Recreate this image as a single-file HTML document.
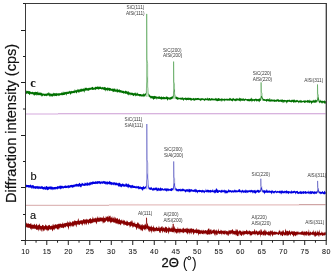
<!DOCTYPE html><html><head><meta charset="utf-8"><style>html,body{margin:0;padding:0;background:#fff;overflow:hidden}svg{display:block} svg{will-change:transform}</style></head><body><svg width="335" height="272" viewBox="0 0 335 272">
<rect width="335" height="272" fill="#fff"/>
<line x1="26" y1="114.0" x2="58" y2="114.0" stroke="#dcb8e2" stroke-width="1.2"/>
<line x1="58" y1="113.75" x2="325.6" y2="113.75" stroke="#cb9ad3" stroke-width="1.2"/>
<line x1="26" y1="205.3" x2="109" y2="205.3" stroke="#d6a8a8" stroke-width="1"/>
<line x1="109" y1="204.9" x2="299" y2="204.9" stroke="#e6c0c0" stroke-width="1.3"/>
<line x1="299" y1="204.7" x2="325.6" y2="204.7" stroke="#c49090" stroke-width="1"/>
<polygon fill="#007000" points="25.90,90.83 26.40,90.51 26.90,91.46 27.40,90.85 27.90,90.88 28.40,90.80 28.90,91.43 29.40,91.12 29.90,91.23 30.40,91.66 30.90,91.69 31.40,92.05 31.90,92.21 32.40,91.70 32.90,91.84 33.40,92.20 33.90,92.13 34.40,91.99 34.90,92.25 35.40,91.61 35.90,92.20 36.40,91.98 36.90,92.09 37.40,92.42 37.90,91.06 38.40,92.62 38.90,93.08 39.40,92.39 39.90,92.44 40.40,92.80 40.90,92.48 41.40,92.67 41.90,93.21 42.40,93.45 42.90,93.55 43.40,93.55 43.90,93.66 44.40,93.73 44.90,93.74 45.40,93.47 45.90,93.91 46.40,93.78 46.90,93.15 47.40,92.65 47.90,93.71 48.40,93.10 48.90,91.85 49.40,93.28 49.90,93.57 50.40,93.83 50.90,93.21 51.40,93.96 51.90,93.61 52.40,93.99 52.90,93.18 53.40,92.44 53.90,93.71 54.40,92.88 54.90,93.24 55.40,93.59 55.90,92.99 56.40,93.57 56.90,92.83 57.40,93.53 57.90,93.39 58.40,93.27 58.90,93.32 59.40,93.25 59.90,93.13 60.40,93.07 60.90,93.50 61.40,92.27 61.90,92.82 62.40,93.11 62.90,91.50 63.40,93.06 63.90,91.34 64.40,92.31 64.90,92.19 65.40,91.84 65.90,92.17 66.40,92.06 66.90,91.51 67.40,91.56 67.90,92.16 68.40,91.37 68.90,91.81 69.40,90.53 69.90,91.58 70.40,91.06 70.90,91.60 71.40,91.07 71.90,90.77 72.40,91.26 72.90,90.91 73.40,90.70 73.90,90.64 74.40,90.80 74.90,88.92 75.40,90.42 75.90,90.35 76.40,89.67 76.90,90.38 77.40,89.80 77.90,88.70 78.40,89.53 78.90,89.71 79.40,89.15 79.90,89.72 80.40,88.42 80.90,89.59 81.40,88.19 81.90,89.27 82.40,89.07 82.90,88.54 83.40,88.16 83.90,89.05 84.40,88.77 84.90,87.55 85.40,87.63 85.90,88.02 86.40,87.47 86.90,88.30 87.40,88.09 87.90,88.45 88.40,87.95 88.90,87.75 89.40,87.93 89.90,87.52 90.40,88.05 90.90,87.48 91.40,87.60 91.90,87.21 92.40,86.82 92.90,87.07 93.40,87.68 93.90,87.70 94.40,87.55 94.90,87.39 95.40,86.56 95.90,86.91 96.40,86.84 96.90,87.06 97.40,86.29 97.90,86.85 98.40,86.62 98.90,86.99 99.40,86.87 99.90,86.55 100.40,86.45 100.90,86.90 101.40,87.41 101.90,87.35 102.40,87.21 102.90,86.79 103.40,87.76 103.90,87.01 104.40,87.32 104.90,86.81 105.40,87.51 105.90,87.44 106.40,87.97 106.90,88.12 107.40,87.95 107.90,86.78 108.40,88.22 108.90,87.66 109.40,88.05 109.90,87.87 110.40,88.18 110.90,88.29 111.40,88.70 111.90,89.03 112.40,88.16 112.90,88.88 113.40,88.85 113.90,88.52 114.40,88.96 114.90,87.89 115.40,89.17 115.90,89.67 116.40,89.72 116.90,88.39 117.40,88.63 117.90,89.78 118.40,89.73 118.90,89.82 119.40,88.98 119.90,90.23 120.40,90.09 120.90,90.32 121.40,90.06 121.90,91.14 122.40,90.87 122.90,90.51 123.40,90.92 123.90,90.74 124.40,91.72 124.90,90.96 125.40,91.03 125.90,90.35 126.40,91.46 126.90,91.11 127.40,91.63 127.90,91.51 128.40,91.11 128.90,92.17 129.40,92.16 129.90,92.53 130.40,92.70 130.90,92.47 131.40,92.62 131.90,93.12 132.40,92.75 132.90,92.80 133.40,93.36 133.90,93.20 134.40,93.28 134.90,92.41 135.40,93.57 135.90,92.01 136.40,93.61 136.90,93.83 137.40,92.16 137.90,93.87 138.40,93.79 138.90,93.88 139.40,93.91 139.90,94.03 140.40,94.00 140.90,94.12 141.40,94.68 141.90,94.10 142.40,94.48 142.90,94.37 143.40,94.14 143.90,92.69 144.40,94.46 144.90,93.86 145.40,93.27 145.90,93.43 146.40,90.30 146.90,83.07 147.40,76.06 147.90,84.94 148.40,92.72 148.90,94.61 149.40,94.15 149.90,95.21 150.40,95.94 150.90,95.53 151.40,96.29 151.90,95.80 152.40,95.97 152.90,96.27 153.40,95.99 153.90,96.28 154.40,95.98 154.90,95.67 155.40,96.28 155.90,96.25 156.40,96.37 156.90,96.98 157.40,96.62 157.90,96.99 158.40,96.51 158.90,96.59 159.40,96.04 159.90,97.10 160.40,96.85 160.90,97.14 161.40,96.27 161.90,96.70 162.40,97.05 162.90,97.21 163.40,96.27 163.90,97.19 164.40,97.05 164.90,97.08 165.40,96.82 165.90,97.63 166.40,96.09 166.90,96.67 167.40,96.69 167.90,97.06 168.40,97.49 168.90,97.27 169.40,97.44 169.90,97.46 170.40,97.09 170.90,97.13 171.40,96.71 171.90,96.38 172.40,96.48 172.90,96.10 173.40,94.84 173.90,90.98 174.40,88.54 174.90,93.35 175.40,96.44 175.90,97.29 176.40,96.47 176.90,96.71 177.40,96.88 177.90,97.62 178.40,97.41 178.90,97.70 179.40,97.96 179.90,97.61 180.40,97.71 180.90,97.69 181.40,97.53 181.90,97.92 182.40,97.20 182.90,97.52 183.40,98.39 183.90,97.61 184.40,98.02 184.90,97.93 185.40,97.33 185.90,97.90 186.40,97.75 186.90,97.89 187.40,97.71 187.90,97.81 188.40,98.13 188.90,97.06 189.40,98.06 189.90,97.90 190.40,97.76 190.90,97.95 191.40,98.35 191.90,98.16 192.40,98.50 192.90,98.38 193.40,97.87 193.90,98.14 194.40,98.61 194.90,98.37 195.40,97.87 195.90,98.38 196.40,98.20 196.90,98.04 197.40,97.95 197.90,97.99 198.40,98.34 198.90,97.80 199.40,98.45 199.90,98.68 200.40,98.44 200.90,98.21 201.40,98.20 201.90,98.36 202.40,98.27 202.90,98.30 203.40,98.30 203.90,98.89 204.40,98.44 204.90,98.74 205.40,98.29 205.90,97.94 206.40,98.75 206.90,98.54 207.40,97.21 207.90,98.76 208.40,98.45 208.90,98.20 209.40,98.10 209.90,97.88 210.40,98.80 210.90,98.78 211.40,98.35 211.90,97.89 212.40,98.61 212.90,98.40 213.40,98.66 213.90,98.60 214.40,98.56 214.90,99.02 215.40,98.29 215.90,97.87 216.40,98.52 216.90,98.49 217.40,98.59 217.90,98.73 218.40,98.11 218.90,97.90 219.40,98.47 219.90,98.68 220.40,98.65 220.90,98.98 221.40,98.51 221.90,98.15 222.40,98.49 222.90,98.92 223.40,98.83 223.90,98.96 224.40,98.25 224.90,98.89 225.40,98.96 225.90,98.61 226.40,98.71 226.90,98.83 227.40,98.71 227.90,98.79 228.40,98.81 228.90,98.92 229.40,98.34 229.90,97.67 230.40,97.99 230.90,98.87 231.40,99.12 231.90,98.49 232.40,98.44 232.90,98.46 233.40,97.85 233.90,98.86 234.40,98.81 234.90,98.99 235.40,98.53 235.90,98.98 236.40,97.89 236.90,98.66 237.40,98.34 237.90,98.77 238.40,98.51 238.90,99.04 239.40,97.33 239.90,98.60 240.40,98.18 240.90,98.32 241.40,98.72 241.90,98.39 242.40,98.86 242.90,98.62 243.40,97.94 243.90,99.21 244.40,98.95 244.90,98.81 245.40,98.51 245.90,98.84 246.40,99.08 246.90,99.24 247.40,98.89 247.90,99.01 248.40,98.85 248.90,99.26 249.40,99.27 249.90,98.79 250.40,98.93 250.90,98.31 251.40,97.50 251.90,98.99 252.40,99.29 252.90,98.48 253.40,99.24 253.90,99.22 254.40,99.06 254.90,99.04 255.40,98.70 255.90,98.47 256.40,98.94 256.90,98.82 257.40,99.24 257.90,99.06 258.40,98.84 258.90,99.19 259.40,98.53 259.90,98.30 260.40,98.99 260.90,96.58 261.40,95.89 261.90,95.69 262.40,97.75 262.90,97.79 263.40,99.01 263.90,98.99 264.40,99.03 264.90,99.31 265.40,99.47 265.90,99.26 266.40,99.03 266.90,99.23 267.40,99.34 267.90,98.39 268.40,99.55 268.90,99.10 269.40,97.83 269.90,99.97 270.40,99.67 270.90,98.56 271.40,99.63 271.90,99.18 272.40,99.72 272.90,99.59 273.40,99.65 273.90,99.39 274.40,99.15 274.90,100.01 275.40,99.84 275.90,100.00 276.40,99.53 276.90,99.50 277.40,98.78 277.90,99.99 278.40,98.75 278.90,99.97 279.40,99.80 279.90,100.21 280.40,99.34 280.90,100.34 281.40,99.82 281.90,99.13 282.40,99.40 282.90,99.83 283.40,100.06 283.90,100.07 284.40,99.99 284.90,99.65 285.40,100.20 285.90,100.01 286.40,100.34 286.90,100.15 287.40,99.87 287.90,100.06 288.40,99.81 288.90,100.32 289.40,99.15 289.90,100.25 290.40,100.51 290.90,100.02 291.40,100.24 291.90,99.61 292.40,99.85 292.90,99.91 293.40,99.46 293.90,100.12 294.40,99.34 294.90,100.29 295.40,100.59 295.90,100.24 296.40,99.71 296.90,100.53 297.40,99.81 297.90,100.54 298.40,100.79 298.90,100.74 299.40,100.70 299.90,100.02 300.40,100.65 300.90,99.78 301.40,100.57 301.90,100.67 302.40,101.02 302.90,100.76 303.40,100.75 303.90,100.25 304.40,100.53 304.90,100.61 305.40,100.33 305.90,100.81 306.40,100.64 306.90,100.48 307.40,99.80 307.90,100.54 308.40,100.31 308.90,100.33 309.40,100.71 309.90,99.16 310.40,100.79 310.90,100.73 311.40,100.73 311.90,100.67 312.40,100.45 312.90,100.87 313.40,99.54 313.90,100.79 314.40,100.58 314.90,99.70 315.40,99.60 315.90,100.56 316.40,99.95 316.90,100.21 317.40,98.95 317.90,97.00 318.40,97.23 318.90,98.48 319.40,100.42 319.90,101.01 320.40,99.57 320.90,100.97 321.40,100.84 321.90,100.71 322.40,100.61 322.90,101.31 323.40,100.63 323.90,101.37 324.40,99.93 324.90,101.15 325.40,101.02 325.90,101.13 325.90,103.09 325.40,104.11 324.90,102.97 324.40,103.95 323.90,102.75 323.40,102.44 322.90,103.86 322.40,102.89 321.90,102.33 321.40,103.75 320.90,102.61 320.40,102.38 319.90,102.58 319.40,103.40 318.90,101.76 318.40,100.35 317.90,99.52 317.40,101.16 316.90,101.76 316.40,102.40 315.90,102.46 315.40,102.78 314.90,102.59 314.40,102.88 313.90,102.34 313.40,102.73 312.90,102.58 312.40,102.72 311.90,103.22 311.40,104.44 310.90,102.62 310.40,102.16 309.90,103.17 309.40,102.83 308.90,102.46 308.40,102.83 307.90,102.37 307.40,102.89 306.90,102.36 306.40,102.30 305.90,102.26 305.40,102.64 304.90,102.83 304.40,103.00 303.90,102.40 303.40,102.11 302.90,102.32 302.40,102.35 301.90,102.86 301.40,102.38 300.90,102.65 300.40,102.58 299.90,102.21 299.40,102.24 298.90,103.47 298.40,102.40 297.90,102.04 297.40,101.84 296.90,102.38 296.40,101.94 295.90,101.92 295.40,102.57 294.90,102.92 294.40,102.05 293.90,102.01 293.40,103.14 292.90,102.08 292.40,101.80 291.90,101.90 291.40,102.58 290.90,102.23 290.40,101.94 289.90,101.95 289.40,101.71 288.90,101.96 288.40,101.54 287.90,101.85 287.40,102.28 286.90,103.65 286.40,102.76 285.90,101.42 285.40,101.71 284.90,102.78 284.40,101.74 283.90,101.60 283.40,102.86 282.90,103.13 282.40,101.69 281.90,101.78 281.40,102.31 280.90,101.79 280.40,101.61 279.90,102.01 279.40,101.56 278.90,102.10 278.40,101.84 277.90,101.49 277.40,101.25 276.90,101.32 276.40,102.11 275.90,101.80 275.40,101.39 274.90,101.89 274.40,101.76 273.90,101.71 273.40,101.25 272.90,101.83 272.40,101.36 271.90,101.58 271.40,101.52 270.90,101.37 270.40,101.63 269.90,101.88 269.40,101.32 268.90,101.45 268.40,101.16 267.90,101.01 267.40,100.73 266.90,102.34 266.40,101.58 265.90,100.81 265.40,101.03 264.90,101.09 264.40,100.83 263.90,100.87 263.40,100.71 262.90,100.52 262.40,99.37 261.90,97.63 261.40,97.72 260.90,100.14 260.40,101.09 259.90,100.86 259.40,102.24 258.90,101.90 258.40,101.01 257.90,100.65 257.40,100.98 256.90,101.85 256.40,101.31 255.90,100.46 255.40,100.65 254.90,100.63 254.40,102.03 253.90,100.68 253.40,100.84 252.90,101.26 252.40,100.68 251.90,102.41 251.40,100.63 250.90,100.72 250.40,101.23 249.90,100.95 249.40,101.42 248.90,101.15 248.40,101.23 247.90,100.76 247.40,101.29 246.90,100.94 246.40,100.37 245.90,100.25 245.40,100.36 244.90,100.47 244.40,101.32 243.90,101.06 243.40,100.40 242.90,100.74 242.40,100.76 241.90,100.79 241.40,100.65 240.90,100.21 240.40,101.79 239.90,101.31 239.40,100.86 238.90,100.72 238.40,100.46 237.90,100.42 237.40,100.29 236.90,101.27 236.40,100.50 235.90,101.11 235.40,101.41 234.90,100.34 234.40,101.35 233.90,100.47 233.40,100.30 232.90,100.65 232.40,101.78 231.90,100.67 231.40,100.89 230.90,100.62 230.40,100.34 229.90,100.90 229.40,100.50 228.90,100.34 228.40,100.83 227.90,100.68 227.40,100.59 226.90,100.72 226.40,100.35 225.90,100.43 225.40,100.39 224.90,100.28 224.40,101.65 223.90,100.53 223.40,100.60 222.90,100.74 222.40,100.34 221.90,102.21 221.40,100.28 220.90,101.55 220.40,100.27 219.90,100.81 219.40,100.80 218.90,100.71 218.40,100.88 217.90,100.92 217.40,101.34 216.90,101.26 216.40,100.73 215.90,100.49 215.40,100.61 214.90,100.54 214.40,100.28 213.90,100.62 213.40,100.35 212.90,100.39 212.40,100.22 211.90,100.32 211.40,100.28 210.90,100.90 210.40,100.40 209.90,100.17 209.40,100.75 208.90,99.88 208.40,101.26 207.90,100.14 207.40,100.56 206.90,100.06 206.40,100.13 205.90,100.61 205.40,99.96 204.90,100.49 204.40,101.34 203.90,100.33 203.40,100.22 202.90,100.10 202.40,99.79 201.90,100.63 201.40,100.06 200.90,100.14 200.40,101.15 199.90,100.18 199.40,100.17 198.90,99.68 198.40,100.08 197.90,100.34 197.40,99.77 196.90,100.00 196.40,100.03 195.90,100.41 195.40,100.01 194.90,100.25 194.40,101.18 193.90,99.84 193.40,100.75 192.90,100.24 192.40,99.92 191.90,99.98 191.40,100.65 190.90,100.88 190.40,100.08 189.90,99.70 189.40,99.97 188.90,99.71 188.40,100.14 187.90,100.07 187.40,100.02 186.90,99.80 186.40,100.64 185.90,99.73 185.40,100.00 184.90,99.86 184.40,99.49 183.90,99.84 183.40,101.19 182.90,99.98 182.40,99.52 181.90,99.90 181.40,99.41 180.90,99.79 180.40,99.40 179.90,99.28 179.40,99.37 178.90,99.57 178.40,99.32 177.90,99.81 177.40,99.73 176.90,99.55 176.40,99.12 175.90,98.95 175.40,98.27 174.90,95.52 174.40,91.12 173.90,92.94 173.40,97.27 172.90,98.16 172.40,98.78 171.90,99.10 171.40,99.02 170.90,100.33 170.40,99.31 169.90,99.49 169.40,99.80 168.90,99.31 168.40,98.91 167.90,100.75 167.40,100.36 166.90,99.38 166.40,99.06 165.90,99.11 165.40,99.15 164.90,99.16 164.40,99.14 163.90,99.15 163.40,99.28 162.90,99.21 162.40,99.28 161.90,98.88 161.40,99.98 160.90,99.49 160.40,99.00 159.90,98.79 159.40,98.93 158.90,98.74 158.40,98.88 157.90,98.58 157.40,98.57 156.90,99.88 156.40,98.51 155.90,98.70 155.40,98.54 154.90,98.77 154.40,99.02 153.90,99.31 153.40,99.93 152.90,98.75 152.40,98.44 151.90,98.41 151.40,97.90 150.90,98.96 150.40,97.71 149.90,97.40 149.40,97.09 148.90,96.61 148.40,94.90 147.90,86.91 147.40,78.62 146.90,85.29 146.40,92.72 145.90,95.11 145.40,95.84 144.90,96.11 144.40,96.60 143.90,97.31 143.40,96.05 142.90,96.93 142.40,96.33 141.90,96.11 141.40,96.64 140.90,96.73 140.40,96.06 139.90,96.18 139.40,96.49 138.90,95.83 138.40,95.81 137.90,96.24 137.40,95.32 136.90,95.88 136.40,95.86 135.90,95.33 135.40,96.69 134.90,95.27 134.40,95.30 133.90,95.66 133.40,96.37 132.90,95.40 132.40,95.34 131.90,94.93 131.40,94.83 130.90,95.64 130.40,94.56 129.90,94.53 129.40,94.42 128.90,95.65 128.40,94.52 127.90,95.01 127.40,94.35 126.90,93.92 126.40,93.50 125.90,93.97 125.40,93.63 124.90,93.13 124.40,93.47 123.90,92.98 123.40,93.92 122.90,92.93 122.40,92.88 121.90,93.35 121.40,92.47 120.90,92.40 120.40,92.51 119.90,92.63 119.40,92.36 118.90,92.45 118.40,91.81 117.90,92.13 117.40,92.45 116.90,92.40 116.40,91.61 115.90,91.73 115.40,91.81 114.90,91.73 114.40,91.52 113.90,91.46 113.40,92.11 112.90,92.27 112.40,90.92 111.90,90.74 111.40,90.88 110.90,90.42 110.40,90.66 109.90,90.63 109.40,91.16 108.90,90.16 108.40,90.39 107.90,90.04 107.40,91.58 106.90,89.99 106.40,90.07 105.90,91.63 105.40,90.31 104.90,90.33 104.40,90.20 103.90,89.61 103.40,90.09 102.90,89.26 102.40,89.22 101.90,89.78 101.40,89.17 100.90,88.94 100.40,89.04 99.90,89.00 99.40,89.27 98.90,88.96 98.40,90.05 97.90,89.08 97.40,89.20 96.90,89.12 96.40,89.08 95.90,90.24 95.40,89.65 94.90,89.31 94.40,89.77 93.90,89.51 93.40,89.93 92.90,89.71 92.40,90.12 91.90,89.79 91.40,89.40 90.90,89.44 90.40,89.92 89.90,89.76 89.40,90.21 88.90,90.77 88.40,90.86 87.90,90.41 87.40,90.74 86.90,90.22 86.40,90.46 85.90,90.90 85.40,90.43 84.90,90.49 84.40,93.01 83.90,91.25 83.40,91.59 82.90,90.95 82.40,91.41 81.90,91.79 81.40,91.52 80.90,91.88 80.40,91.87 79.90,91.56 79.40,92.40 78.90,92.87 78.40,92.55 77.90,91.79 77.40,91.97 76.90,93.26 76.40,93.56 75.90,92.52 75.40,92.27 74.90,93.39 74.40,92.84 73.90,93.12 73.40,92.90 72.90,93.58 72.40,92.93 71.90,93.41 71.40,93.20 70.90,94.70 70.40,94.39 69.90,93.65 69.40,93.29 68.90,93.84 68.40,94.11 67.90,94.04 67.40,93.96 66.90,93.75 66.40,96.09 65.90,94.29 65.40,94.21 64.90,94.94 64.40,94.85 63.90,94.93 63.40,94.88 62.90,95.17 62.40,95.18 61.90,95.10 61.40,95.19 60.90,95.34 60.40,95.07 59.90,95.38 59.40,95.58 58.90,96.25 58.40,95.45 57.90,95.54 57.40,95.54 56.90,95.81 56.40,96.30 55.90,95.89 55.40,95.97 54.90,95.55 54.40,96.33 53.90,96.35 53.40,95.52 52.90,96.55 52.40,96.52 51.90,96.49 51.40,96.01 50.90,96.88 50.40,95.58 49.90,96.92 49.40,95.95 48.90,95.57 48.40,95.60 47.90,95.60 47.40,95.55 46.90,96.43 46.40,95.83 45.90,95.88 45.40,95.83 44.90,95.64 44.40,96.17 43.90,95.67 43.40,95.34 42.90,95.63 42.40,96.02 41.90,96.96 41.40,95.39 40.90,96.11 40.40,95.10 39.90,95.10 39.40,95.19 38.90,95.16 38.40,95.14 37.90,94.73 37.40,95.12 36.90,95.89 36.40,94.65 35.90,94.54 35.40,95.37 34.90,94.72 34.40,95.67 33.90,95.54 33.40,94.42 32.90,94.59 32.40,94.00 31.90,94.50 31.40,93.82 30.90,94.57 30.40,93.52 29.90,94.53 29.40,95.17 28.90,93.92 28.40,94.03 27.90,93.47 27.40,93.26 26.90,94.26 26.40,93.67 25.90,93.10"/>
<polygon fill="#0000e0" points="25.90,184.48 26.40,184.86 26.90,185.04 27.40,184.92 27.90,185.08 28.40,184.93 28.90,185.04 29.40,185.23 29.90,185.11 30.40,184.41 30.90,184.79 31.40,185.44 31.90,185.38 32.40,185.11 32.90,185.25 33.40,185.01 33.90,185.90 34.40,186.34 34.90,186.14 35.40,186.34 35.90,185.93 36.40,186.03 36.90,186.39 37.40,185.73 37.90,186.38 38.40,186.41 38.90,185.95 39.40,186.26 39.90,186.71 40.40,186.38 40.90,186.48 41.40,185.77 41.90,186.76 42.40,186.02 42.90,186.83 43.40,186.90 43.90,187.01 44.40,186.24 44.90,187.18 45.40,187.34 45.90,185.97 46.40,186.12 46.90,186.25 47.40,187.10 47.90,186.58 48.40,186.94 48.90,186.50 49.40,186.47 49.90,186.64 50.40,185.97 50.90,187.01 51.40,186.40 51.90,186.62 52.40,186.80 52.90,187.27 53.40,187.13 53.90,186.91 54.40,186.89 54.90,186.92 55.40,187.01 55.90,186.69 56.40,186.97 56.90,186.80 57.40,186.17 57.90,185.98 58.40,186.29 58.90,186.55 59.40,185.99 59.90,185.50 60.40,185.47 60.90,186.04 61.40,185.67 61.90,185.84 62.40,185.76 62.90,186.21 63.40,186.21 63.90,186.15 64.40,185.80 64.90,185.67 65.40,185.22 65.90,185.80 66.40,185.90 66.90,185.55 67.40,185.76 67.90,185.52 68.40,185.34 68.90,185.21 69.40,185.55 69.90,185.48 70.40,184.90 70.90,185.01 71.40,184.72 71.90,185.05 72.40,184.94 72.90,184.71 73.40,184.48 73.90,185.07 74.40,184.72 74.90,184.08 75.40,184.19 75.90,184.20 76.40,183.53 76.90,184.07 77.40,184.16 77.90,183.80 78.40,183.97 78.90,183.56 79.40,182.96 79.90,182.74 80.40,184.04 80.90,184.10 81.40,184.00 81.90,182.46 82.40,183.53 82.90,182.70 83.40,184.05 83.90,183.87 84.40,183.68 84.90,182.34 85.40,183.07 85.90,183.20 86.40,183.53 86.90,182.28 87.40,182.63 87.90,182.25 88.40,182.91 88.90,183.38 89.40,182.03 89.90,182.62 90.40,182.47 90.90,181.41 91.40,182.30 91.90,181.97 92.40,181.87 92.90,181.17 93.40,181.81 93.90,181.57 94.40,181.79 94.90,182.01 95.40,181.10 95.90,181.51 96.40,181.57 96.90,181.44 97.40,181.25 97.90,180.93 98.40,181.32 98.90,181.33 99.40,181.03 99.90,181.26 100.40,181.52 100.90,181.66 101.40,181.68 101.90,180.70 102.40,181.77 102.90,181.23 103.40,180.63 103.90,181.38 104.40,181.26 104.90,181.04 105.40,181.81 105.90,181.15 106.40,181.72 106.90,181.72 107.40,181.51 107.90,181.41 108.40,182.05 108.90,181.86 109.40,181.25 109.90,180.67 110.40,182.07 110.90,181.67 111.40,182.36 111.90,182.03 112.40,182.63 112.90,182.22 113.40,182.48 113.90,182.23 114.40,182.24 114.90,182.55 115.40,182.62 115.90,183.06 116.40,182.31 116.90,182.96 117.40,183.41 117.90,182.86 118.40,183.39 118.90,182.40 119.40,182.71 119.90,183.09 120.40,183.57 120.90,184.02 121.40,184.17 121.90,183.73 122.40,183.99 122.90,182.86 123.40,184.20 123.90,184.02 124.40,184.38 124.90,184.29 125.40,184.46 125.90,183.12 126.40,183.77 126.90,183.56 127.40,184.80 127.90,183.86 128.40,183.53 128.90,184.56 129.40,185.11 129.90,184.39 130.40,185.40 130.90,185.02 131.40,184.90 131.90,185.75 132.40,184.89 132.90,184.67 133.40,185.71 133.90,185.96 134.40,185.69 134.90,186.11 135.40,186.17 135.90,186.26 136.40,186.48 136.90,185.41 137.40,186.48 137.90,186.21 138.40,186.24 138.90,185.71 139.40,187.09 139.90,186.60 140.40,186.16 140.90,187.16 141.40,187.03 141.90,187.00 142.40,186.63 142.90,187.18 143.40,185.73 143.90,186.55 144.40,187.05 144.90,187.24 145.40,186.31 145.90,186.27 146.40,184.25 146.90,180.04 147.40,172.93 147.90,176.30 148.40,184.32 148.90,186.76 149.40,187.42 149.90,187.65 150.40,187.46 150.90,187.55 151.40,186.65 151.90,188.10 152.40,188.47 152.90,188.27 153.40,187.95 153.90,187.41 154.40,188.46 154.90,187.41 155.40,187.68 155.90,187.58 156.40,187.31 156.90,188.06 157.40,188.65 157.90,187.53 158.40,188.14 158.90,187.51 159.40,188.73 159.90,188.31 160.40,187.60 160.90,187.54 161.40,188.59 161.90,188.27 162.40,188.33 162.90,188.21 163.40,189.17 163.90,188.72 164.40,188.38 164.90,188.33 165.40,188.74 165.90,188.05 166.40,188.93 166.90,187.85 167.40,188.96 167.90,187.97 168.40,188.72 168.90,188.64 169.40,189.17 169.90,188.67 170.40,188.83 170.90,188.81 171.40,188.01 171.90,188.21 172.40,188.33 172.90,188.42 173.40,187.17 173.90,183.72 174.40,182.84 174.90,184.97 175.40,188.03 175.90,188.79 176.40,188.53 176.90,188.48 177.40,189.39 177.90,189.04 178.40,189.18 178.90,188.81 179.40,189.03 179.90,189.07 180.40,189.53 180.90,188.27 181.40,189.49 181.90,189.02 182.40,188.65 182.90,188.52 183.40,189.37 183.90,188.59 184.40,189.67 184.90,189.34 185.40,189.64 185.90,189.58 186.40,189.23 186.90,189.15 187.40,189.32 187.90,189.34 188.40,189.75 188.90,188.61 189.40,188.90 189.90,189.29 190.40,189.22 190.90,189.40 191.40,189.05 191.90,189.45 192.40,190.12 192.90,189.47 193.40,189.89 193.90,189.75 194.40,189.26 194.90,189.52 195.40,188.49 195.90,190.09 196.40,189.08 196.90,190.11 197.40,190.20 197.90,190.26 198.40,189.88 198.90,189.99 199.40,189.80 199.90,189.90 200.40,189.92 200.90,190.18 201.40,189.88 201.90,190.44 202.40,189.57 202.90,190.26 203.40,190.22 203.90,190.25 204.40,190.49 204.90,190.58 205.40,190.67 205.90,188.40 206.40,190.42 206.90,189.83 207.40,189.81 207.90,189.83 208.40,189.99 208.90,189.83 209.40,190.34 209.90,190.34 210.40,189.96 210.90,189.87 211.40,190.53 211.90,190.34 212.40,190.37 212.90,188.69 213.40,190.68 213.90,190.46 214.40,190.25 214.90,189.69 215.40,190.29 215.90,188.68 216.40,188.34 216.90,188.75 217.40,189.69 217.90,189.74 218.40,190.74 218.90,189.72 219.40,190.32 219.90,190.21 220.40,190.50 220.90,190.53 221.40,189.62 221.90,190.36 222.40,190.45 222.90,189.62 223.40,190.21 223.90,190.47 224.40,190.22 224.90,189.21 225.40,190.66 225.90,190.01 226.40,190.61 226.90,190.69 227.40,190.79 227.90,190.72 228.40,189.45 228.90,189.29 229.40,190.23 229.90,190.33 230.40,190.13 230.90,189.97 231.40,190.79 231.90,190.50 232.40,190.56 232.90,190.06 233.40,190.19 233.90,190.91 234.40,189.72 234.90,189.53 235.40,189.94 235.90,190.53 236.40,190.30 236.90,190.25 237.40,190.47 237.90,190.55 238.40,189.11 238.90,190.48 239.40,189.02 239.90,188.93 240.40,190.62 240.90,190.56 241.40,190.55 241.90,190.56 242.40,190.05 242.90,189.55 243.40,190.66 243.90,190.47 244.40,190.50 244.90,190.15 245.40,190.49 245.90,188.88 246.40,190.42 246.90,190.34 247.40,190.42 247.90,190.31 248.40,190.48 248.90,190.25 249.40,190.48 249.90,189.78 250.40,190.12 250.90,190.51 251.40,189.40 251.90,190.26 252.40,190.16 252.90,190.28 253.40,190.19 253.90,190.43 254.40,189.72 254.90,190.48 255.40,190.78 255.90,189.64 256.40,190.47 256.90,190.76 257.40,189.52 257.90,190.11 258.40,189.77 258.90,190.23 259.40,190.72 259.90,189.75 260.40,190.29 260.90,187.95 261.40,187.06 261.90,187.80 262.40,189.92 262.90,190.81 263.40,190.49 263.90,189.75 264.40,190.17 264.90,190.48 265.40,190.31 265.90,190.94 266.40,189.99 266.90,188.89 267.40,190.83 267.90,190.59 268.40,190.91 268.90,190.33 269.40,190.13 269.90,191.08 270.40,190.87 270.90,191.10 271.40,190.97 271.90,189.67 272.40,190.79 272.90,190.49 273.40,191.13 273.90,191.26 274.40,191.11 274.90,190.90 275.40,190.66 275.90,190.31 276.40,191.43 276.90,191.32 277.40,190.98 277.90,190.80 278.40,191.17 278.90,191.26 279.40,190.57 279.90,190.90 280.40,191.23 280.90,190.33 281.40,190.83 281.90,190.84 282.40,190.29 282.90,191.19 283.40,190.96 283.90,191.41 284.40,191.06 284.90,190.57 285.40,190.91 285.90,190.97 286.40,190.40 286.90,190.17 287.40,191.54 287.90,190.75 288.40,191.16 288.90,191.09 289.40,191.29 289.90,191.49 290.40,191.49 290.90,191.30 291.40,190.01 291.90,191.53 292.40,191.37 292.90,191.27 293.40,190.80 293.90,191.18 294.40,190.54 294.90,191.07 295.40,191.19 295.90,191.56 296.40,190.95 296.90,191.08 297.40,190.79 297.90,191.35 298.40,191.92 298.90,192.09 299.40,191.86 299.90,191.19 300.40,191.39 300.90,190.65 301.40,191.39 301.90,191.75 302.40,191.42 302.90,191.39 303.40,191.26 303.90,191.09 304.40,191.92 304.90,190.93 305.40,191.23 305.90,191.07 306.40,191.99 306.90,191.58 307.40,191.56 307.90,191.71 308.40,191.68 308.90,190.36 309.40,191.66 309.90,191.77 310.40,191.37 310.90,190.73 311.40,191.83 311.90,191.01 312.40,191.60 312.90,191.02 313.40,191.87 313.90,191.86 314.40,190.72 314.90,191.93 315.40,191.64 315.90,191.13 316.40,191.38 316.90,191.45 317.40,191.22 317.90,189.77 318.40,189.03 318.90,190.69 319.40,191.72 319.90,191.62 320.40,191.84 320.90,191.72 321.40,191.97 321.90,191.86 322.40,190.93 322.90,191.43 323.40,192.03 323.90,192.32 324.40,191.07 324.90,190.82 325.40,191.89 325.90,192.42 325.90,194.27 325.40,193.62 324.90,194.51 324.40,194.22 323.90,194.02 323.40,194.24 322.90,193.97 322.40,193.34 321.90,193.66 321.40,193.81 320.90,194.57 320.40,193.72 319.90,193.20 319.40,193.39 318.90,193.24 318.40,191.61 317.90,191.40 317.40,192.79 316.90,193.27 316.40,193.98 315.90,193.85 315.40,193.82 314.90,193.35 314.40,194.48 313.90,193.66 313.40,194.02 312.90,193.40 312.40,193.28 311.90,193.65 311.40,194.15 310.90,193.39 310.40,194.03 309.90,194.52 309.40,193.29 308.90,193.83 308.40,193.64 307.90,193.08 307.40,193.49 306.90,193.42 306.40,193.42 305.90,194.11 305.40,193.73 304.90,193.15 304.40,193.50 303.90,193.53 303.40,193.96 302.90,194.12 302.40,193.33 301.90,193.78 301.40,194.37 300.90,193.43 300.40,194.02 299.90,193.69 299.40,193.53 298.90,193.72 298.40,194.28 297.90,193.25 297.40,194.31 296.90,193.01 296.40,192.86 295.90,194.40 295.40,193.87 294.90,192.87 294.40,192.84 293.90,193.00 293.40,193.22 292.90,193.15 292.40,193.12 291.90,193.97 291.40,193.25 290.90,193.05 290.40,193.65 289.90,192.89 289.40,192.71 288.90,194.21 288.40,193.78 287.90,193.28 287.40,193.33 286.90,193.31 286.40,193.26 285.90,194.06 285.40,192.59 284.90,192.82 284.40,193.20 283.90,193.42 283.40,192.98 282.90,193.51 282.40,193.08 281.90,192.83 281.40,194.20 280.90,194.28 280.40,192.71 279.90,193.38 279.40,192.94 278.90,192.77 278.40,192.84 277.90,192.82 277.40,192.75 276.90,192.70 276.40,193.44 275.90,192.62 275.40,192.58 274.90,192.60 274.40,193.52 273.90,193.50 273.40,193.01 272.90,193.48 272.40,192.35 271.90,193.28 271.40,194.55 270.90,192.75 270.40,192.69 269.90,192.87 269.40,192.67 268.90,192.40 268.40,192.72 267.90,192.89 267.40,192.80 266.90,192.51 266.40,192.80 265.90,192.74 265.40,192.82 264.90,192.96 264.40,194.58 263.90,192.81 263.40,192.38 262.90,192.52 262.40,191.99 261.90,190.80 261.40,189.31 260.90,191.04 260.40,192.05 259.90,192.10 259.40,192.84 258.90,192.70 258.40,193.00 257.90,192.00 257.40,192.21 256.90,192.51 256.40,192.43 255.90,193.61 255.40,193.84 254.90,192.86 254.40,193.58 253.90,192.14 253.40,192.71 252.90,193.77 252.40,192.43 251.90,192.25 251.40,191.92 250.90,192.83 250.40,192.20 249.90,192.22 249.40,192.00 248.90,192.23 248.40,192.26 247.90,193.04 247.40,192.14 246.90,193.61 246.40,191.95 245.90,193.08 245.40,193.05 244.90,192.06 244.40,192.90 243.90,192.33 243.40,193.17 242.90,192.20 242.40,192.10 241.90,193.79 241.40,192.45 240.90,192.09 240.40,192.43 239.90,191.93 239.40,192.48 238.90,192.10 238.40,192.10 237.90,192.45 237.40,192.09 236.90,192.69 236.40,192.11 235.90,192.49 235.40,192.15 234.90,192.82 234.40,191.95 233.90,192.27 233.40,193.07 232.90,191.87 232.40,192.83 231.90,191.90 231.40,193.32 230.90,192.17 230.40,192.04 229.90,192.56 229.40,192.15 228.90,192.06 228.40,192.42 227.90,192.60 227.40,193.26 226.90,193.41 226.40,192.67 225.90,193.94 225.40,192.61 224.90,193.70 224.40,192.21 223.90,192.51 223.40,192.04 222.90,192.15 222.40,192.35 221.90,192.23 221.40,193.01 220.90,192.36 220.40,192.69 219.90,191.96 219.40,192.02 218.90,191.92 218.40,192.93 217.90,192.93 217.40,192.91 216.90,192.43 216.40,192.28 215.90,192.39 215.40,193.41 214.90,192.16 214.40,193.68 213.90,192.13 213.40,192.42 212.90,192.21 212.40,192.12 211.90,192.54 211.40,191.91 210.90,192.32 210.40,193.12 209.90,192.03 209.40,192.76 208.90,191.96 208.40,193.10 207.90,191.67 207.40,192.56 206.90,192.52 206.40,192.21 205.90,191.69 205.40,192.08 204.90,192.15 204.40,193.52 203.90,192.45 203.40,192.16 202.90,192.63 202.40,191.68 201.90,193.29 201.40,192.14 200.90,192.12 200.40,192.06 199.90,191.90 199.40,192.30 198.90,192.21 198.40,191.65 197.90,192.30 197.40,193.71 196.90,191.88 196.40,192.07 195.90,192.91 195.40,191.71 194.90,192.11 194.40,191.84 193.90,191.87 193.40,191.94 192.90,191.55 192.40,191.64 191.90,191.58 191.40,191.47 190.90,191.61 190.40,191.91 189.90,192.71 189.40,192.05 188.90,192.43 188.40,191.54 187.90,191.69 187.40,191.61 186.90,192.02 186.40,191.32 185.90,192.09 185.40,192.83 184.90,191.56 184.40,191.48 183.90,190.81 183.40,191.26 182.90,191.24 182.40,191.08 181.90,191.85 181.40,191.02 180.90,191.12 180.40,191.54 179.90,191.38 179.40,190.75 178.90,190.80 178.40,191.87 177.90,191.55 177.40,191.09 176.90,191.62 176.40,190.80 175.90,190.38 175.40,190.06 174.90,187.81 174.40,184.56 173.90,187.80 173.40,189.33 172.90,190.05 172.40,190.34 171.90,191.19 171.40,191.04 170.90,190.72 170.40,190.92 169.90,190.55 169.40,190.83 168.90,190.39 168.40,190.90 167.90,191.56 167.40,190.59 166.90,190.81 166.40,192.03 165.90,190.62 165.40,190.96 164.90,190.46 164.40,190.49 163.90,190.35 163.40,190.68 162.90,190.38 162.40,190.27 161.90,190.23 161.40,190.99 160.90,190.28 160.40,191.31 159.90,190.83 159.40,190.62 158.90,191.25 158.40,190.13 157.90,190.65 157.40,190.88 156.90,191.43 156.40,190.24 155.90,189.82 155.40,190.14 154.90,190.02 154.40,190.38 153.90,190.11 153.40,190.63 152.90,190.77 152.40,190.43 151.90,189.99 151.40,189.49 150.90,190.03 150.40,189.78 149.90,189.87 149.40,189.45 148.90,189.02 148.40,187.96 147.90,179.63 147.40,174.84 146.90,182.12 146.40,186.73 145.90,188.08 145.40,188.47 144.90,189.51 144.40,188.85 143.90,189.07 143.40,189.32 142.90,190.89 142.40,190.21 141.90,189.73 141.40,189.35 140.90,189.32 140.40,188.85 139.90,188.82 139.40,189.00 138.90,189.76 138.40,188.79 137.90,188.53 137.40,188.30 136.90,188.24 136.40,188.46 135.90,188.05 135.40,188.49 134.90,187.94 134.40,187.92 133.90,187.92 133.40,188.12 132.90,187.63 132.40,187.74 131.90,188.68 131.40,187.67 130.90,187.51 130.40,188.44 129.90,187.03 129.40,187.11 128.90,188.45 128.40,186.99 127.90,188.04 127.40,186.74 126.90,187.07 126.40,186.69 125.90,186.33 125.40,186.60 124.90,186.95 124.40,186.47 123.90,186.73 123.40,186.51 122.90,186.45 122.40,185.97 121.90,186.93 121.40,187.62 120.90,185.97 120.40,187.32 119.90,186.69 119.40,186.35 118.90,186.45 118.40,186.82 117.90,185.20 117.40,185.44 116.90,185.30 116.40,185.14 115.90,185.23 115.40,185.15 114.90,185.56 114.40,184.43 113.90,184.56 113.40,185.58 112.90,184.42 112.40,184.76 111.90,184.53 111.40,185.52 110.90,184.14 110.40,184.69 109.90,184.56 109.40,184.53 108.90,183.66 108.40,184.16 107.90,184.18 107.40,184.42 106.90,184.95 106.40,183.57 105.90,184.96 105.40,183.65 104.90,183.89 104.40,183.77 103.90,183.74 103.40,183.34 102.90,183.50 102.40,184.02 101.90,183.45 101.40,183.43 100.90,183.74 100.40,184.59 99.90,183.28 99.40,183.91 98.90,183.55 98.40,183.52 97.90,183.61 97.40,184.27 96.90,183.86 96.40,183.82 95.90,184.31 95.40,183.63 94.90,184.04 94.40,183.91 93.90,184.02 93.40,183.96 92.90,183.97 92.40,184.79 91.90,184.49 91.40,184.17 90.90,185.49 90.40,184.66 89.90,184.80 89.40,185.71 88.90,185.63 88.40,184.98 87.90,185.54 87.40,185.99 86.90,185.36 86.40,185.67 85.90,185.44 85.40,185.67 84.90,185.86 84.40,186.10 83.90,186.02 83.40,185.86 82.90,185.38 82.40,185.78 81.90,185.85 81.40,187.34 80.90,187.24 80.40,187.19 79.90,186.27 79.40,186.46 78.90,186.54 78.40,186.69 77.90,186.85 77.40,186.24 76.90,186.84 76.40,186.38 75.90,186.22 75.40,186.82 74.90,186.71 74.40,186.84 73.90,187.70 73.40,187.01 72.90,187.28 72.40,188.36 71.90,186.89 71.40,187.48 70.90,187.25 70.40,187.56 69.90,187.75 69.40,188.11 68.90,187.48 68.40,188.40 67.90,188.13 67.40,187.57 66.90,187.90 66.40,188.05 65.90,188.26 65.40,188.04 64.90,187.94 64.40,188.09 63.90,188.04 63.40,188.77 62.90,188.31 62.40,188.30 61.90,188.71 61.40,188.28 60.90,189.86 60.40,188.69 59.90,188.67 59.40,188.53 58.90,188.54 58.40,188.79 57.90,188.78 57.40,189.44 56.90,189.59 56.40,188.74 55.90,188.85 55.40,189.65 54.90,189.14 54.40,189.48 53.90,189.48 53.40,189.18 52.90,190.51 52.40,188.96 51.90,190.11 51.40,189.45 50.90,188.87 50.40,189.94 49.90,188.85 49.40,189.35 48.90,189.78 48.40,189.50 47.90,190.40 47.40,189.91 46.90,189.74 46.40,189.48 45.90,189.13 45.40,189.99 44.90,189.89 44.40,189.11 43.90,189.36 43.40,190.02 42.90,188.85 42.40,189.48 41.90,188.80 41.40,188.83 40.90,188.79 40.40,189.11 39.90,188.79 39.40,188.52 38.90,189.54 38.40,188.47 37.90,188.95 37.40,188.52 36.90,189.02 36.40,188.17 35.90,188.53 35.40,189.07 34.90,189.10 34.40,188.14 33.90,188.11 33.40,188.70 32.90,189.09 32.40,187.76 31.90,187.54 31.40,188.92 30.90,188.08 30.40,187.62 29.90,187.49 29.40,187.44 28.90,187.93 28.40,187.27 27.90,187.46 27.40,187.03 26.90,187.01 26.40,187.38 25.90,187.14"/>
<polygon fill="#880000" points="25.90,224.56 26.40,223.02 26.90,222.58 27.40,223.49 27.90,224.36 28.40,223.00 28.90,223.65 29.40,224.03 29.90,224.05 30.40,222.91 30.90,224.26 31.40,224.90 31.90,223.05 32.40,225.35 32.90,224.58 33.40,224.61 33.90,225.18 34.40,223.55 34.90,224.42 35.40,224.93 35.90,225.60 36.40,223.46 36.90,224.18 37.40,225.27 37.90,225.97 38.40,224.41 38.90,225.22 39.40,223.35 39.90,225.03 40.40,225.99 40.90,225.75 41.40,226.30 41.90,225.76 42.40,224.69 42.90,224.97 43.40,224.93 43.90,226.50 44.40,226.03 44.90,226.07 45.40,223.90 45.90,225.58 46.40,225.61 46.90,225.44 47.40,226.52 47.90,225.40 48.40,225.56 48.90,225.11 49.40,224.65 49.90,225.47 50.40,226.19 50.90,225.98 51.40,225.70 51.90,225.60 52.40,226.01 52.90,223.63 53.40,225.74 53.90,223.54 54.40,225.35 54.90,225.20 55.40,224.19 55.90,223.94 56.40,224.73 56.90,224.69 57.40,223.92 57.90,224.60 58.40,224.06 58.90,223.40 59.40,224.13 59.90,223.14 60.40,224.12 60.90,223.29 61.40,224.35 61.90,224.06 62.40,223.55 62.90,221.94 63.40,223.65 63.90,224.11 64.40,222.74 64.90,223.44 65.40,222.82 65.90,223.25 66.40,222.69 66.90,222.73 67.40,220.48 67.90,223.50 68.40,221.91 68.90,222.41 69.40,222.76 69.90,220.41 70.40,222.30 70.90,222.31 71.40,222.67 71.90,222.54 72.40,221.02 72.90,221.56 73.40,221.53 73.90,221.15 74.40,219.81 74.90,221.49 75.40,220.48 75.90,221.10 76.40,220.96 76.90,221.17 77.40,221.09 77.90,219.49 78.40,217.93 78.90,220.85 79.40,220.71 79.90,220.72 80.40,220.47 80.90,220.26 81.40,220.45 81.90,219.99 82.40,220.31 82.90,220.42 83.40,219.00 83.90,219.00 84.40,219.85 84.90,219.50 85.40,219.87 85.90,219.29 86.40,218.58 86.90,220.08 87.40,219.18 87.90,219.54 88.40,219.68 88.90,219.47 89.40,218.46 89.90,219.09 90.40,218.08 90.90,218.61 91.40,219.49 91.90,218.96 92.40,218.47 92.90,216.31 93.40,218.42 93.90,218.65 94.40,218.19 94.90,218.45 95.40,217.15 95.90,218.50 96.40,218.47 96.90,217.62 97.40,217.86 97.90,215.63 98.40,218.13 98.90,217.68 99.40,218.32 99.90,216.59 100.40,217.44 100.90,217.74 101.40,217.58 101.90,217.67 102.40,217.98 102.90,217.34 103.40,215.42 103.90,218.59 104.40,217.60 104.90,217.88 105.40,218.33 105.90,215.95 106.40,216.71 106.90,217.60 107.40,216.47 107.90,215.97 108.40,217.71 108.90,214.95 109.40,216.62 109.90,215.98 110.40,215.48 110.90,218.24 111.40,216.61 111.90,218.12 112.40,218.39 112.90,216.06 113.40,217.73 113.90,218.52 114.40,216.27 114.90,219.44 115.40,217.60 115.90,217.40 116.40,218.73 116.90,218.77 117.40,217.76 117.90,218.74 118.40,219.91 118.90,219.31 119.40,218.31 119.90,219.68 120.40,220.54 120.90,219.97 121.40,220.44 121.90,219.04 122.40,220.40 122.90,221.30 123.40,220.49 123.90,219.45 124.40,220.49 124.90,220.68 125.40,221.77 125.90,221.66 126.40,221.66 126.90,220.36 127.40,221.00 127.90,221.82 128.40,222.14 128.90,222.19 129.40,222.03 129.90,222.22 130.40,221.76 130.90,220.72 131.40,221.95 131.90,219.84 132.40,220.93 132.90,222.99 133.40,222.81 133.90,222.67 134.40,223.46 134.90,221.35 135.40,223.92 135.90,224.05 136.40,223.94 136.90,223.65 137.40,221.85 137.90,223.60 138.40,222.31 138.90,223.99 139.40,224.87 139.90,223.57 140.40,224.73 140.90,225.68 141.40,225.01 141.90,224.23 142.40,223.94 142.90,225.76 143.40,225.26 143.90,224.99 144.40,225.62 144.90,223.74 145.40,223.76 145.90,225.04 146.40,226.00 146.90,224.63 147.40,222.73 147.90,225.57 148.40,226.41 148.90,224.97 149.40,226.64 149.90,226.45 150.40,227.04 150.90,226.19 151.40,225.30 151.90,227.31 152.40,226.91 152.90,227.60 153.40,225.06 153.90,227.14 154.40,227.41 154.90,227.68 155.40,227.88 155.90,227.50 156.40,226.58 156.90,227.20 157.40,228.15 157.90,227.45 158.40,227.89 158.90,225.56 159.40,228.67 159.90,225.91 160.40,228.20 160.90,227.37 161.40,226.91 161.90,225.93 162.40,226.34 162.90,228.38 163.40,227.21 163.90,227.40 164.40,228.39 164.90,227.16 165.40,226.36 165.90,227.52 166.40,226.76 166.90,227.62 167.40,228.29 167.90,228.57 168.40,227.96 168.90,225.90 169.40,228.36 169.90,227.28 170.40,228.90 170.90,227.77 171.40,228.42 171.90,226.26 172.40,228.84 172.90,225.84 173.40,228.50 173.90,226.98 174.40,225.91 174.90,228.68 175.40,228.31 175.90,228.89 176.40,229.11 176.90,228.77 177.40,228.92 177.90,226.85 178.40,229.01 178.90,228.69 179.40,228.52 179.90,228.94 180.40,229.08 180.90,228.01 181.40,229.54 181.90,229.16 182.40,227.87 182.90,229.70 183.40,227.19 183.90,228.27 184.40,229.32 184.90,228.48 185.40,228.96 185.90,228.32 186.40,227.77 186.90,229.44 187.40,227.19 187.90,229.32 188.40,228.70 188.90,228.45 189.40,229.72 189.90,227.99 190.40,228.61 190.90,229.09 191.40,227.77 191.90,228.93 192.40,229.30 192.90,228.39 193.40,228.87 193.90,228.91 194.40,229.77 194.90,230.00 195.40,229.70 195.90,229.12 196.40,227.75 196.90,230.33 197.40,229.18 197.90,229.71 198.40,229.68 198.90,229.26 199.40,229.68 199.90,230.35 200.40,230.32 200.90,230.50 201.40,229.56 201.90,230.92 202.40,230.72 202.90,229.74 203.40,229.81 203.90,230.71 204.40,230.87 204.90,230.24 205.40,229.90 205.90,230.27 206.40,231.10 206.90,229.93 207.40,230.45 207.90,229.34 208.40,228.41 208.90,228.54 209.40,230.73 209.90,228.12 210.40,230.24 210.90,229.14 211.40,229.47 211.90,231.40 212.40,230.07 212.90,230.54 213.40,229.28 213.90,230.03 214.40,228.92 214.90,230.65 215.40,230.07 215.90,230.90 216.40,230.34 216.90,229.24 217.40,231.54 217.90,230.80 218.40,228.31 218.90,230.87 219.40,230.98 219.90,231.01 220.40,230.75 220.90,229.61 221.40,230.17 221.90,230.73 222.40,230.98 222.90,230.55 223.40,230.55 223.90,231.26 224.40,230.83 224.90,230.27 225.40,230.30 225.90,231.75 226.40,230.80 226.90,230.93 227.40,231.06 227.90,231.68 228.40,231.21 228.90,229.66 229.40,230.66 229.90,230.14 230.40,230.58 230.90,230.25 231.40,230.46 231.90,229.64 232.40,229.31 232.90,229.60 233.40,231.22 233.90,230.44 234.40,231.21 234.90,230.67 235.40,231.14 235.90,228.76 236.40,229.53 236.90,230.93 237.40,228.95 237.90,230.58 238.40,231.46 238.90,231.38 239.40,230.29 239.90,230.53 240.40,230.45 240.90,231.06 241.40,231.52 241.90,231.65 242.40,231.70 242.90,230.15 243.40,230.72 243.90,231.78 244.40,230.63 244.90,230.97 245.40,231.29 245.90,231.05 246.40,229.38 246.90,230.58 247.40,231.46 247.90,230.18 248.40,230.90 248.90,231.76 249.40,230.33 249.90,230.70 250.40,231.41 250.90,231.09 251.40,231.71 251.90,231.47 252.40,231.06 252.90,231.42 253.40,231.01 253.90,231.38 254.40,229.67 254.90,228.74 255.40,231.80 255.90,231.35 256.40,230.57 256.90,230.43 257.40,231.95 257.90,231.01 258.40,231.79 258.90,230.74 259.40,231.16 259.90,229.68 260.40,232.48 260.90,230.24 261.40,230.68 261.90,231.41 262.40,231.64 262.90,231.63 263.40,230.79 263.90,230.76 264.40,228.93 264.90,231.87 265.40,231.06 265.90,229.40 266.40,231.72 266.90,231.51 267.40,231.98 267.90,232.13 268.40,231.41 268.90,230.64 269.40,231.44 269.90,231.93 270.40,230.86 270.90,230.21 271.40,231.63 271.90,230.60 272.40,230.35 272.90,231.78 273.40,231.87 273.90,232.06 274.40,231.19 274.90,231.86 275.40,232.09 275.90,231.56 276.40,231.65 276.90,232.20 277.40,232.15 277.90,232.44 278.40,232.16 278.90,230.57 279.40,230.93 279.90,229.60 280.40,232.64 280.90,230.77 281.40,232.37 281.90,231.04 282.40,231.86 282.90,229.91 283.40,230.25 283.90,231.68 284.40,232.30 284.90,232.56 285.40,228.46 285.90,229.91 286.40,231.78 286.90,230.61 287.40,231.36 287.90,230.40 288.40,231.41 288.90,231.57 289.40,230.47 289.90,230.09 290.40,232.29 290.90,231.98 291.40,230.56 291.90,232.02 292.40,231.17 292.90,231.35 293.40,231.63 293.90,230.91 294.40,231.61 294.90,231.16 295.40,231.90 295.90,232.08 296.40,231.20 296.90,232.20 297.40,231.49 297.90,231.59 298.40,231.53 298.90,232.64 299.40,232.38 299.90,231.85 300.40,232.54 300.90,231.88 301.40,231.82 301.90,231.34 302.40,231.74 302.90,230.50 303.40,231.79 303.90,232.38 304.40,231.52 304.90,231.36 305.40,232.17 305.90,231.37 306.40,231.34 306.90,231.16 307.40,231.79 307.90,232.50 308.40,231.83 308.90,228.88 309.40,232.45 309.90,232.61 310.40,231.24 310.90,231.89 311.40,232.77 311.90,232.27 312.40,231.34 312.90,232.13 313.40,229.47 313.90,232.54 314.40,232.32 314.90,231.61 315.40,231.68 315.90,230.61 316.40,232.64 316.90,232.76 317.40,232.30 317.90,229.96 318.40,232.53 318.90,231.67 319.40,229.13 319.90,232.99 320.40,232.67 320.90,233.10 321.40,232.56 321.90,230.99 322.40,232.94 322.90,232.18 323.40,232.56 323.90,233.38 324.40,232.44 324.90,231.84 325.40,232.81 325.90,231.33 325.90,235.57 325.40,234.73 324.90,234.89 324.40,235.72 323.90,235.00 323.40,235.38 322.90,235.90 322.40,235.93 321.90,234.58 321.40,235.18 320.90,235.55 320.40,234.87 319.90,236.93 319.40,234.70 318.90,234.79 318.40,236.94 317.90,235.27 317.40,235.24 316.90,235.13 316.40,235.65 315.90,236.23 315.40,236.97 314.90,234.79 314.40,237.11 313.90,235.76 313.40,234.55 312.90,235.27 312.40,234.63 311.90,234.48 311.40,234.56 310.90,235.44 310.40,234.56 309.90,236.56 309.40,235.09 308.90,235.11 308.40,236.07 307.90,235.76 307.40,234.28 306.90,234.57 306.40,236.21 305.90,234.86 305.40,235.36 304.90,236.77 304.40,234.79 303.90,234.63 303.40,235.82 302.90,234.76 302.40,234.98 301.90,234.20 301.40,234.89 300.90,235.12 300.40,234.30 299.90,234.51 299.40,234.37 298.90,235.04 298.40,234.31 297.90,234.08 297.40,235.23 296.90,235.50 296.40,234.60 295.90,236.39 295.40,235.77 294.90,235.44 294.40,235.13 293.90,235.84 293.40,237.16 292.90,235.09 292.40,235.33 291.90,234.36 291.40,234.10 290.90,234.40 290.40,236.19 289.90,234.47 289.40,234.25 288.90,235.54 288.40,235.03 287.90,236.18 287.40,235.50 286.90,234.24 286.40,235.80 285.90,235.60 285.40,235.14 284.90,234.72 284.40,236.05 283.90,234.57 283.40,234.52 282.90,236.25 282.40,235.89 281.90,235.70 281.40,234.59 280.90,235.97 280.40,235.07 279.90,234.21 279.40,233.98 278.90,234.67 278.40,235.20 277.90,234.47 277.40,234.36 276.90,234.59 276.40,234.12 275.90,234.67 275.40,234.45 274.90,234.86 274.40,234.63 273.90,234.51 273.40,234.72 272.90,235.64 272.40,236.86 271.90,234.08 271.40,235.06 270.90,234.32 270.40,236.76 269.90,235.72 269.40,235.33 268.90,235.22 268.40,235.83 267.90,234.31 267.40,235.37 266.90,234.47 266.40,234.34 265.90,235.24 265.40,235.42 264.90,236.00 264.40,234.30 263.90,236.12 263.40,234.64 262.90,235.75 262.40,234.09 261.90,234.96 261.40,235.00 260.90,234.29 260.40,237.68 259.90,234.05 259.40,234.45 258.90,235.16 258.40,234.51 257.90,234.98 257.40,235.69 256.90,233.90 256.40,233.78 255.90,235.66 255.40,234.02 254.90,234.02 254.40,234.65 253.90,234.50 253.40,234.29 252.90,233.68 252.40,234.76 251.90,234.91 251.40,235.22 250.90,236.24 250.40,234.81 249.90,235.78 249.40,233.71 248.90,234.49 248.40,234.10 247.90,233.69 247.40,235.29 246.90,234.10 246.40,234.31 245.90,234.06 245.40,233.69 244.90,235.16 244.40,234.35 243.90,234.08 243.40,235.90 242.90,234.72 242.40,234.25 241.90,235.91 241.40,235.76 240.90,235.44 240.40,234.60 239.90,235.78 239.40,233.62 238.90,233.87 238.40,236.17 237.90,235.72 237.40,236.16 236.90,235.92 236.40,234.50 235.90,235.80 235.40,234.14 234.90,234.17 234.40,234.92 233.90,233.74 233.40,234.29 232.90,235.15 232.40,233.59 231.90,233.56 231.40,233.87 230.90,233.57 230.40,234.72 229.90,233.55 229.40,234.43 228.90,234.25 228.40,236.03 227.90,235.90 227.40,234.17 226.90,235.16 226.40,234.18 225.90,234.49 225.40,233.52 224.90,233.70 224.40,235.12 223.90,234.03 223.40,234.46 222.90,233.50 222.40,233.41 221.90,235.44 221.40,234.08 220.90,233.44 220.40,234.10 219.90,233.67 219.40,234.62 218.90,233.56 218.40,233.87 217.90,232.94 217.40,234.91 216.90,235.02 216.40,234.22 215.90,236.41 215.40,233.20 214.90,235.82 214.40,234.67 213.90,233.07 213.40,233.76 212.90,233.65 212.40,232.99 211.90,234.05 211.40,234.09 210.90,234.98 210.40,233.20 209.90,234.32 209.40,234.71 208.90,233.97 208.40,234.54 207.90,234.71 207.40,234.93 206.90,233.38 206.40,234.48 205.90,234.53 205.40,233.36 204.90,233.29 204.40,233.65 203.90,234.63 203.40,233.31 202.90,234.33 202.40,233.95 201.90,233.77 201.40,233.58 200.90,233.17 200.40,234.50 199.90,233.77 199.40,234.11 198.90,233.78 198.40,235.99 197.90,233.50 197.40,233.07 196.90,233.02 196.40,233.84 195.90,232.77 195.40,232.83 194.90,233.18 194.40,232.49 193.90,234.75 193.40,234.41 192.90,232.83 192.40,232.44 191.90,231.89 191.40,234.57 190.90,232.89 190.40,232.14 189.90,234.93 189.40,233.10 188.90,232.72 188.40,232.33 187.90,234.73 187.40,233.60 186.90,233.58 186.40,232.87 185.90,231.93 185.40,232.47 184.90,231.66 184.40,232.27 183.90,233.47 183.40,232.50 182.90,233.25 182.40,232.11 181.90,232.80 181.40,232.06 180.90,231.93 180.40,232.28 179.90,234.15 179.40,231.75 178.90,233.43 178.40,231.48 177.90,233.42 177.40,231.91 176.90,234.04 176.40,233.18 175.90,232.31 175.40,232.22 174.90,233.63 174.40,230.80 173.90,232.95 173.40,231.71 172.90,232.11 172.40,232.23 171.90,232.37 171.40,231.62 170.90,231.77 170.40,231.58 169.90,232.46 169.40,231.01 168.90,232.36 168.40,234.61 167.90,231.97 167.40,231.08 166.90,232.98 166.40,232.67 165.90,233.17 165.40,231.37 164.90,231.99 164.40,232.78 163.90,231.01 163.40,231.52 162.90,231.28 162.40,233.48 161.90,231.31 161.40,230.84 160.90,231.03 160.40,233.32 159.90,232.81 159.40,232.61 158.90,230.65 158.40,230.98 157.90,231.12 157.40,231.10 156.90,231.41 156.40,230.60 155.90,231.12 155.40,230.69 154.90,232.83 154.40,230.83 153.90,231.27 153.40,231.80 152.90,231.73 152.40,230.13 151.90,231.12 151.40,233.83 150.90,230.15 150.40,231.82 149.90,230.02 149.40,232.32 148.90,231.73 148.40,230.54 147.90,229.33 147.40,229.13 146.90,227.65 146.40,229.01 145.90,230.63 145.40,228.92 144.90,228.90 144.40,230.57 143.90,229.19 143.40,228.58 142.90,230.52 142.40,231.38 141.90,229.58 141.40,230.60 140.90,230.79 140.40,229.16 139.90,229.36 139.40,229.21 138.90,227.36 138.40,229.53 137.90,227.97 137.40,227.48 136.90,229.82 136.40,229.68 135.90,227.36 135.40,227.56 134.90,226.52 134.40,226.86 133.90,226.56 133.40,226.83 132.90,228.16 132.40,226.41 131.90,226.07 131.40,225.52 130.90,227.01 130.40,226.11 129.90,227.93 129.40,225.29 128.90,225.77 128.40,224.87 127.90,225.53 127.40,225.98 126.90,225.42 126.40,225.72 125.90,225.11 125.40,224.96 124.90,224.22 124.40,225.69 123.90,223.57 123.40,225.77 122.90,224.04 122.40,223.55 121.90,223.49 121.40,223.45 120.90,225.48 120.40,224.74 119.90,224.27 119.40,224.08 118.90,224.56 118.40,224.19 117.90,222.64 117.40,224.22 116.90,223.94 116.40,223.11 115.90,224.12 115.40,222.38 114.90,222.91 114.40,222.28 113.90,222.99 113.40,222.24 112.90,221.67 112.40,221.69 111.90,222.85 111.40,221.77 110.90,223.45 110.40,222.52 109.90,221.39 109.40,221.68 108.90,220.76 108.40,222.60 107.90,221.35 107.40,222.43 106.90,220.43 106.40,220.69 105.90,221.06 105.40,222.30 104.90,221.69 104.40,223.34 103.90,222.01 103.40,222.97 102.90,223.77 102.40,221.00 101.90,222.13 101.40,220.79 100.90,221.47 100.40,221.15 99.90,221.18 99.40,221.93 98.90,221.38 98.40,221.96 97.90,221.54 97.40,221.82 96.90,222.82 96.40,224.40 95.90,223.12 95.40,221.76 94.90,222.37 94.40,221.69 93.90,223.14 93.40,221.87 92.90,222.26 92.40,223.21 91.90,222.78 91.40,223.46 90.90,223.14 90.40,223.72 89.90,223.18 89.40,222.69 88.90,223.15 88.40,225.20 87.90,223.03 87.40,222.61 86.90,223.66 86.40,225.49 85.90,223.08 85.40,223.90 84.90,225.38 84.40,223.71 83.90,223.59 83.40,223.42 82.90,223.96 82.40,225.71 81.90,225.29 81.40,223.85 80.90,224.23 80.40,223.56 79.90,224.42 79.40,224.92 78.90,225.32 78.40,224.14 77.90,224.41 77.40,224.52 76.90,224.51 76.40,227.45 75.90,226.28 75.40,224.72 74.90,224.67 74.40,225.13 73.90,227.10 73.40,225.61 72.90,227.27 72.40,225.88 71.90,225.62 71.40,225.81 70.90,227.69 70.40,225.73 69.90,225.89 69.40,226.03 68.90,227.45 68.40,230.15 67.90,227.28 67.40,226.52 66.90,226.40 66.40,226.08 65.90,226.69 65.40,227.68 64.90,226.65 64.40,226.94 63.90,228.59 63.40,227.92 62.90,227.46 62.40,227.63 61.90,228.09 61.40,227.82 60.90,227.24 60.40,227.20 59.90,229.58 59.40,227.42 58.90,228.32 58.40,229.83 57.90,229.19 57.40,229.82 56.90,228.21 56.40,228.60 55.90,228.62 55.40,228.60 54.90,228.59 54.40,230.61 53.90,229.07 53.40,229.46 52.90,230.77 52.40,231.53 51.90,229.34 51.40,229.39 50.90,229.78 50.40,229.62 49.90,229.46 49.40,228.90 48.90,230.28 48.40,230.19 47.90,231.48 47.40,230.13 46.90,229.13 46.40,230.64 45.90,229.47 45.40,229.51 44.90,229.22 44.40,230.40 43.90,231.62 43.40,229.97 42.90,232.10 42.40,229.24 41.90,229.33 41.40,231.87 40.90,231.05 40.40,229.68 39.90,228.62 39.40,230.52 38.90,229.11 38.40,231.77 37.90,228.97 37.40,230.13 36.90,229.42 36.40,230.03 35.90,229.37 35.40,228.50 34.90,229.25 34.40,228.54 33.90,228.60 33.40,229.06 32.90,228.33 32.40,229.51 31.90,228.10 31.40,230.38 30.90,228.35 30.40,229.43 29.90,227.67 29.40,227.82 28.90,228.02 28.40,227.59 27.90,228.04 27.40,227.27 26.90,227.44 26.40,226.68 25.90,227.94"/>
<path d="M146.20,96.91L146.60,84.03L146.70,13.91L146.95,59.28L147.60,63.41L147.70,88.16L148.10,96.91 M173.10,99.09L173.50,93.04L173.60,61.59L173.85,81.94L174.50,83.79L174.60,94.89L175.00,99.09 M260.60,100.67L261.00,97.50L261.10,82.37L261.35,92.16L262.00,93.05L262.10,98.39L262.50,100.67 M317.00,102.30L317.40,99.21L317.50,84.50L317.75,94.02L318.40,94.88L318.50,100.07L318.90,102.30" fill="none" stroke="#4c9e4c" stroke-width="0.6" stroke-linejoin="round"/>
<path d="M146.30,189.31L146.70,179.09L146.80,124.01L147.05,159.65L147.70,162.89L147.80,182.33L148.20,189.31 M173.20,190.45L173.60,185.67L173.70,161.45L173.95,177.12L174.60,178.55L174.70,187.10L175.10,190.45 M260.30,192.12L260.70,189.68L260.80,178.72L261.05,185.81L261.70,186.46L261.80,190.33L262.20,192.12 M317.10,193.31L317.50,191.02L317.60,180.91L317.85,187.45L318.50,188.05L318.60,191.62L319.00,193.31" fill="none" stroke="#5858c0" stroke-width="0.6" stroke-linejoin="round"/>
<path d="M146.00,228.50L146.40,226.47L146.50,217.80L146.75,223.41L147.40,223.92L147.50,226.97L147.90,228.50 M172.70,230.78L173.10,229.32L173.20,223.88L173.45,227.40L174.10,227.72L174.20,229.64L174.60,230.78 M260.50,233.43L260.90,232.42L261.00,229.53L261.25,231.40L261.90,231.57L262.00,232.59L262.40,233.43 M317.00,234.30L317.40,233.50L317.50,231.80L317.75,232.90L318.40,233.00L318.50,233.60L318.90,234.30" fill="none" stroke="#8a0000" stroke-width="0.7" stroke-linejoin="round"/>
<path d="M25.5,3.5 H326.3 M25.5,3 V241 M25,240.5 H326.3" fill="none" stroke="#3a3a3a" stroke-width="1"/>
<path d="M21.00,240.50H25.5 M23.00,214.50H25.5 M21.00,187.50H25.5 M23.00,161.50H25.5 M21.00,135.50H25.5 M23.00,109.00H25.5 M21.00,82.50H25.5 M23.00,56.50H25.5 M21.00,30.50H25.5 M23.00,3.50H25.5 M25.30,240.5V245.00 M36.05,240.5V242.70 M46.79,240.5V245.00 M57.54,240.5V242.70 M68.29,240.5V245.00 M79.03,240.5V242.70 M89.78,240.5V245.00 M100.52,240.5V242.70 M111.27,240.5V245.00 M122.02,240.5V242.70 M132.76,240.5V245.00 M143.51,240.5V242.70 M154.26,240.5V245.00 M165.00,240.5V242.70 M175.75,240.5V245.00 M186.50,240.5V242.70 M197.24,240.5V245.00 M207.99,240.5V242.70 M218.74,240.5V245.00 M229.48,240.5V242.70 M240.23,240.5V245.00 M250.97,240.5V242.70 M261.72,240.5V245.00 M272.47,240.5V242.70 M283.21,240.5V245.00 M293.96,240.5V242.70 M304.71,240.5V245.00 M315.45,240.5V242.70 M326.20,240.5V245.00" stroke="#1e1e1e" stroke-width="1" fill="none"/>
<g font-family="Liberation Sans" font-size="7.1" letter-spacing="0.45" fill="#111" stroke="#111" stroke-width="0.05"><text x="25.55" y="253.9" text-anchor="middle">10</text><text x="47.04" y="253.9" text-anchor="middle">15</text><text x="68.54" y="253.9" text-anchor="middle">20</text><text x="90.03" y="253.9" text-anchor="middle">25</text><text x="111.52" y="253.9" text-anchor="middle">30</text><text x="133.01" y="253.9" text-anchor="middle">35</text><text x="154.51" y="253.9" text-anchor="middle">40</text><text x="176.00" y="253.9" text-anchor="middle">45</text><text x="197.49" y="253.9" text-anchor="middle">50</text><text x="218.99" y="253.9" text-anchor="middle">55</text><text x="240.48" y="253.9" text-anchor="middle">60</text><text x="261.97" y="253.9" text-anchor="middle">65</text><text x="283.46" y="253.9" text-anchor="middle">70</text><text x="304.96" y="253.9" text-anchor="middle">75</text><text x="326.45" y="253.9" text-anchor="middle">80</text></g>
<text x="161.6" y="267.4" font-family="Liberation Sans" font-size="13" fill="#111" stroke="#111" stroke-width="0.3">2Θ</text>
<text x="182.7" y="267.6" font-family="Liberation Sans" font-size="14" fill="#111">(</text>
<text x="192.0" y="267.6" font-family="Liberation Sans" font-size="14" fill="#111">)</text>
<circle cx="189.2" cy="258.1" r="1.55" fill="none" stroke="#111" stroke-width="0.95"/>
<text transform="translate(16.35,203.1) rotate(-90)" x="0" y="0" font-family="Liberation Sans" font-size="14.3" fill="#111" stroke="#111" stroke-width="0.2" textLength="159.3" lengthAdjust="spacingAndGlyphs">Diffraction intensity (cps)</text>
<text x="30.2" y="86.8" font-family="Liberation Serif" font-weight="bold" font-size="12.5" fill="#111">c</text>
<text x="30.5" y="180.3" font-family="Liberation Sans" font-size="11" fill="#111" stroke="#111" stroke-width="0.15">b</text>
<text x="30.0" y="219.3" font-family="Liberation Sans" font-size="11" fill="#111" stroke="#111" stroke-width="0.15">a</text>
<g font-family="Liberation Sans" font-size="4.7" fill="#3a3a3a"><text x="126.5" y="9.3">SiC(111)</text><text x="126.0" y="15.2">AlSi(111)</text><text x="163.0" y="51.6">SiC(200)</text><text x="163.0" y="57.3">AlSi(200)</text><text x="252.8" y="74.6">SiC(220)</text><text x="252.8" y="80.6">AlSi(220)</text><text x="304.3" y="82.0">AlSi(311)</text><text x="124.6" y="120.6">SiC(111)</text><text x="124.6" y="127.0">SiAl(111)</text><text x="164.0" y="151.4">SiC(200)</text><text x="164.0" y="157.1">SiAl(200)</text><text x="251.5" y="176.3">SiC(220)</text><text x="307.4" y="176.6">AlSi(311)</text><text x="138.0" y="214.9">Al(111)</text><text x="163.4" y="215.8">Al(200)</text><text x="163.4" y="221.5">AlSi(200)</text><text x="251.6" y="219.2">Al(220)</text><text x="251.6" y="224.9">AlSi(220)</text><text x="305.3" y="224.1">AlSi(311)</text></g>
<line x1="326.3" y1="3" x2="326.3" y2="241" stroke="#3a3a3a" stroke-width="1.3"/>
</svg></body></html>
